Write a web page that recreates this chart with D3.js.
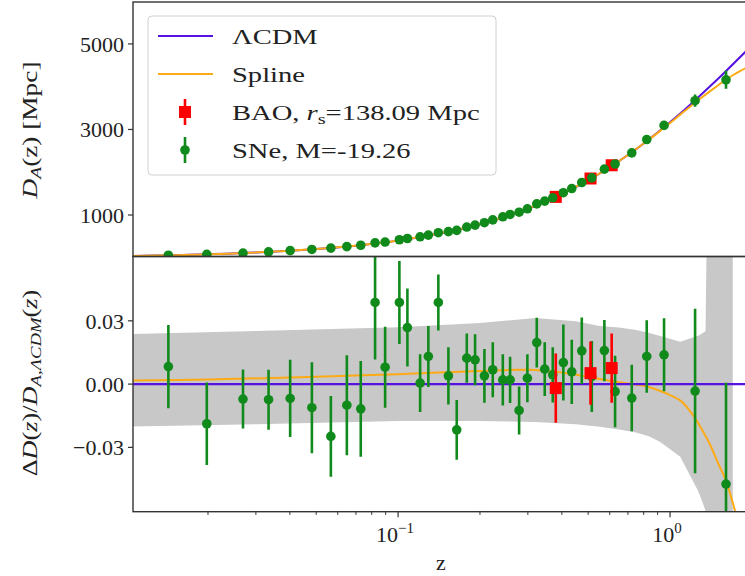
<!DOCTYPE html>
<html>
<head>
<meta charset="utf-8">
<script src="https://cdn.jsdelivr.net/npm/d3@7"></script>
<style>
  body { margin: 0; background: #fff; }
  svg text { font-family: "Liberation Serif", "DejaVu Serif", serif; fill: #222; }
</style>
</head>
<body>
<svg width="745" height="576"></svg>
<script>
// LCDM distance curve
const lcdmZ = [0.0106, 0.015, 0.02, 0.03, 0.05, 0.07, 0.1, 0.15, 0.2, 0.3, 0.4, 0.5, 0.6, 0.7, 0.8, 0.9, 1.0, 1.2, 1.4, 1.6, 1.9];
const lcdmD = [43, 61, 82, 122, 203, 283, 401, 595, 783, 1145, 1488, 1811, 2116, 2403, 2673, 2928, 3168, 3609, 4003, 4357, 4826];

// spline, as fractional residual w.r.t. LCDM (bottom panel)
const splineZ   = [0.0106, 0.02, 0.05, 0.1, 0.2, 0.3, 0.4, 0.5, 0.6, 0.7, 0.8, 0.9, 1.0, 1.1, 1.2, 1.3, 1.4, 1.5, 1.6, 1.7, 1.8, 1.9];
const splineRes = [0.0017, 0.0022, 0.0035, 0.0047, 0.0062, 0.0068, 0.0055, 0.0034, 0.0016, 0.0003, -0.0008, -0.0028, -0.0052, -0.0082, -0.0138, -0.0208, -0.0284, -0.0374, -0.0452, -0.0563, -0.0680, -0.0810];

// grey uncertainty band
const bandZ  = [0.0106, 0.03, 0.1, 0.2, 0.32, 0.45, 0.55, 0.65, 0.75, 0.84, 0.92, 1.09, 1.26, 1.29, 1.35, 1.37, 1.70];
const bandHi = [0.0237, 0.0252, 0.0270, 0.0290, 0.0314, 0.0298, 0.0276, 0.0268, 0.0257, 0.0242, 0.0228, 0.0201, 0.0228, 0.0234, 0.0250, 0.0900, 0.0900];
const bandLo = [-0.0201, -0.0190, -0.0175, -0.0175, -0.0180, -0.0190, -0.0202, -0.0215, -0.0230, -0.0249, -0.0275, -0.0345, -0.0500, -0.0530, -0.0600, -0.0900, -0.0900];

// supernovae
const sneZ = [0.0143, 0.0198, 0.0269, 0.0334, 0.0401, 0.0482, 0.0566, 0.0648, 0.0729, 0.0823,
              0.0896, 0.1011, 0.1082, 0.1205, 0.1292, 0.1406, 0.1531, 0.1643, 0.1789, 0.1919,
              0.2077, 0.2229, 0.2427, 0.2581, 0.2786, 0.2988, 0.3235, 0.3461, 0.3704, 0.4052,
              0.4351, 0.4736, 0.5155, 0.5734, 0.6279, 0.7231, 0.8208, 0.9504, 1.236, 1.606];
const sneRes = [0.0083, -0.0188, -0.0071, -0.0074, -0.0068, -0.0112, -0.0248, -0.0100, -0.0117, 0.0387,
                0.0080, 0.0387, 0.0268, 0.0005, 0.0131, 0.0387, 0.0039, -0.0217, 0.0123, 0.0115,
                0.0039, 0.0068, 0.0020, 0.0020, -0.0125, 0.0028, 0.0197, 0.0071, 0.0044, 0.0102,
                0.0058, 0.0158, 0.0036, 0.0159, -0.0035, -0.0066, 0.0131, 0.0139, -0.0033, -0.0474];
const sneErr = [0.0197, 0.0196, 0.0140, 0.0142, 0.0183, 0.0216, 0.0191, 0.0237, 0.0227, 0.0270,
                0.0192, 0.0197, 0.0185, 0.0137, 0.0145, 0.0133, 0.0136, 0.0142, 0.0117, 0.0121,
                0.0128, 0.0130, 0.0122, 0.0110, 0.0114, 0.0114, 0.0118, 0.0128, 0.0131, 0.0180,
                0.0152, 0.0158, 0.0168, 0.0145, 0.0170, 0.0158, 0.0172, 0.0173, 0.0390, 0.0480];

// BAO
const baoZ = [0.38, 0.51, 0.61];
const baoRes = [-0.0019, 0.0052, 0.0076];
const baoErr = [0.0164, 0.0150, 0.0164];

const xTicksMajor = [0.1, 1];
const xTicksMinor = [0.02, 0.03, 0.04, 0.05, 0.06, 0.07, 0.08, 0.09, 0.2, 0.3, 0.4, 0.5, 0.6, 0.7, 0.8, 0.9];
const yTopTicks = [1000, 3000, 5000];
const yBotTicks = [-0.03, 0, 0.03];

const blue = "#5512e0", orange = "#fdaa14", green = "#118a1c", red = "#ff0000";

const svg = d3.select("svg");
const L = 133, R = 747, T1 = 2, B1 = 256.5, B2 = 511.7;

const x = d3.scaleLog().domain([0.0106, 1.886]).range([133, 745]);
const yTop = d3.scaleLinear().domain([30, 5980]).range([B1, T1]);
const yBot = d3.scaleLinear().domain([-0.0605, 0.0605]).range([B2, B1]);
const lcdmAt = d3.scaleLog().domain(lcdmZ).range(lcdmD);

const defs = svg.append("defs");
defs.append("clipPath").attr("id", "clipTop").append("rect")
  .attr("x", L).attr("y", T1).attr("width", R - L).attr("height", B1 - T1);
defs.append("clipPath").attr("id", "clipBot").append("rect")
  .attr("x", L).attr("y", B1).attr("width", R - L).attr("height", B2 - B1);

// ---------- top panel ----------
const topG = svg.append("g").attr("clip-path", "url(#clipTop)");
const lineTop = d3.line().x(d => x(d[0])).y(d => yTop(d[1])).curve(d3.curveCatmullRom);

topG.append("path")
  .attr("d", lineTop(lcdmZ.map((z, i) => [z, lcdmD[i]])))
  .attr("fill", "none").attr("stroke", blue).attr("stroke-width", 2);
topG.append("path")
  .attr("d", lineTop(splineZ.map((z, i) => [z, lcdmAt(z) * (1 + splineRes[i])])))
  .attr("fill", "none").attr("stroke", orange).attr("stroke-width", 2);

function drawPoints(g, zs, res, errs, y, val, shape, color) {
  zs.forEach((z, i) => {
    const lo = val(z, res[i] - errs[i]), hi = val(z, res[i] + errs[i]), c = val(z, res[i]);
    g.append("line").attr("x1", x(z)).attr("x2", x(z))
      .attr("y1", y(lo)).attr("y2", y(hi))
      .attr("stroke", color).attr("stroke-width", 2.6);
    if (shape === "sq") {
      g.append("rect").attr("x", x(z) - 6).attr("y", y(c) - 6)
        .attr("width", 12).attr("height", 12).attr("fill", color);
    } else {
      g.append("circle").attr("cx", x(z)).attr("cy", y(c)).attr("r", 4.8).attr("fill", color);
    }
  });
}
const topVal = (z, r) => lcdmAt(z) * (1 + r);
const botVal = (z, r) => r;

drawPoints(topG, baoZ, baoRes, baoErr, yTop, topVal, "sq", red);
drawPoints(topG, sneZ, sneRes, sneErr, yTop, topVal, "circle", green);

// ---------- bottom panel ----------
const botG = svg.append("g").attr("clip-path", "url(#clipBot)");
botG.append("path")
  .attr("d", d3.area().x(d => x(d[0])).y0(d => yBot(d[1])).y1(d => yBot(d[2]))
    (bandZ.map((z, i) => [z, bandLo[i], bandHi[i]])))
  .attr("fill", "#c8c8c8");

botG.append("path")
  .attr("d", d3.line().x(d => x(d[0])).y(d => yBot(d[1])).curve(d3.curveCatmullRom)
    (splineZ.map((z, i) => [z, splineRes[i]])))
  .attr("fill", "none").attr("stroke", orange).attr("stroke-width", 2);
botG.append("line").attr("x1", L).attr("x2", R).attr("y1", yBot(0)).attr("y2", yBot(0))
  .attr("stroke", blue).attr("stroke-width", 2.4);

drawPoints(botG, sneZ, sneRes, sneErr, yBot, botVal, "circle", green);
drawPoints(botG, baoZ, baoRes, baoErr, yBot, botVal, "sq", red);

// ---------- frames & axes ----------
[[T1, B1], [B1, B2]].forEach(([a, b]) => {
  svg.append("rect").attr("x", L).attr("y", a).attr("width", R - L).attr("height", b - a)
    .attr("fill", "none").attr("stroke", "#333").attr("stroke-width", 1.4);
});

const xAxis = svg.append("g").attr("transform", `translate(0,${B2})`);
xAxis.selectAll(".maj").data(xTicksMajor).join("line")
  .attr("x1", d => x(d)).attr("x2", d => x(d)).attr("y1", 0).attr("y2", 5.5)
  .attr("stroke", "#333").attr("stroke-width", 1.2);
xAxis.selectAll(".min").data(xTicksMinor).join("line")
  .attr("x1", d => x(d)).attr("x2", d => x(d)).attr("y1", 0).attr("y2", 3.2)
  .attr("stroke", "#333").attr("stroke-width", 1);
const xl = xAxis.selectAll(".lab").data(xTicksMajor).join("text")
  .attr("x", d => x(d) - 3).attr("y", 30).attr("text-anchor", "middle")
  .style("font-size", "22px");
xl.append("tspan").text("10");
xl.append("tspan").attr("dy", -9).style("font-size", "15px").text(d => d === 1 ? "0" : "\u22121");

svg.append("text").attr("x", 441).attr("y", 570).attr("text-anchor", "middle")
  .style("font-size", "22px").text("z");

function yAxis(scale, ticks, fmt) {
  const g = svg.append("g");
  g.selectAll("line").data(ticks).join("line")
    .attr("x1", L - 5).attr("x2", L).attr("y1", d => scale(d)).attr("y2", d => scale(d))
    .attr("stroke", "#333").attr("stroke-width", 1.2);
  g.selectAll("text").data(ticks).join("text")
    .attr("x", L - 9).attr("y", d => scale(d)).attr("dy", "0.35em")
    .attr("text-anchor", "end").style("font-size", "22px").text(fmt);
}
yAxis(yTop, yTopTicks, d => d3.format("d")(d));
yAxis(yBot, yBotTicks, d => d3.format(".2f")(d).replace("-", "\u2212"));

const yl1 = svg.append("text").attr("transform", "translate(37,130) rotate(-90) scale(1.3,1)")
  .attr("text-anchor", "middle").style("font-size", "21px");
yl1.append("tspan").style("font-style", "italic").text("D");
yl1.append("tspan").style("font-style", "italic").style("font-size", "15px").attr("dy", 4).text("A");
yl1.append("tspan").attr("dy", -4).text("(z) [Mpc]");

const yl2 = svg.append("text").attr("transform", "translate(37,383) rotate(-90) scale(1.25,1)")
  .attr("text-anchor", "middle").style("font-size", "21px");
yl2.append("tspan").text("\u0394");
yl2.append("tspan").style("font-style", "italic").text("D");
yl2.append("tspan").text("(");
yl2.append("tspan").style("font-style", "italic").text("z");
yl2.append("tspan").text(")/");
yl2.append("tspan").style("font-style", "italic").text("D");
yl2.append("tspan").style("font-style", "italic").style("font-size", "15px").attr("dy", 4).text("A,\u039BCDM");
yl2.append("tspan").attr("dy", -4).text("(");
yl2.append("tspan").style("font-style", "italic").text("z");
yl2.append("tspan").text(")");

// ---------- legend ----------
const leg = svg.append("g");
leg.append("rect").attr("x", 148).attr("y", 16).attr("width", 348).attr("height", 159)
  .attr("rx", 4).attr("fill", "#fff").attr("fill-opacity", 0.85)
  .attr("stroke", "#d0d0d0").attr("stroke-width", 1);

const legY = [36, 74, 112, 150];
leg.append("line").attr("x1", 158).attr("x2", 213).attr("y1", legY[0]).attr("y2", legY[0])
  .attr("stroke", blue).attr("stroke-width", 2);
leg.append("line").attr("x1", 158).attr("x2", 213).attr("y1", legY[1]).attr("y2", legY[1])
  .attr("stroke", orange).attr("stroke-width", 2);
leg.append("line").attr("x1", 185).attr("x2", 185).attr("y1", legY[2] - 13).attr("y2", legY[2] + 13)
  .attr("stroke", red).attr("stroke-width", 2.6);
leg.append("rect").attr("x", 179).attr("y", legY[2] - 6).attr("width", 12).attr("height", 12).attr("fill", red);
leg.append("line").attr("x1", 185).attr("x2", 185).attr("y1", legY[3] - 13).attr("y2", legY[3] + 13)
  .attr("stroke", green).attr("stroke-width", 2.6);
leg.append("circle").attr("cx", 185).attr("cy", legY[3]).attr("r", 4.8).attr("fill", green);

const lt = (i) => leg.append("text")
  .attr("transform", `translate(232,${legY[i] + 8}) scale(1.36,1)`)
  .style("font-size", "21px");
lt(0).text("\u039BCDM");
lt(1).text("Spline");
const b = lt(2);
b.append("tspan").text("BAO, ");
b.append("tspan").style("font-style", "italic").text("r");
b.append("tspan").style("font-size", "15px").attr("dy", 4).text("s");
b.append("tspan").attr("dy", -4).text("=138.09 Mpc");
lt(3).text("SNe, M=-19.26");
</script>
</body>
</html>
